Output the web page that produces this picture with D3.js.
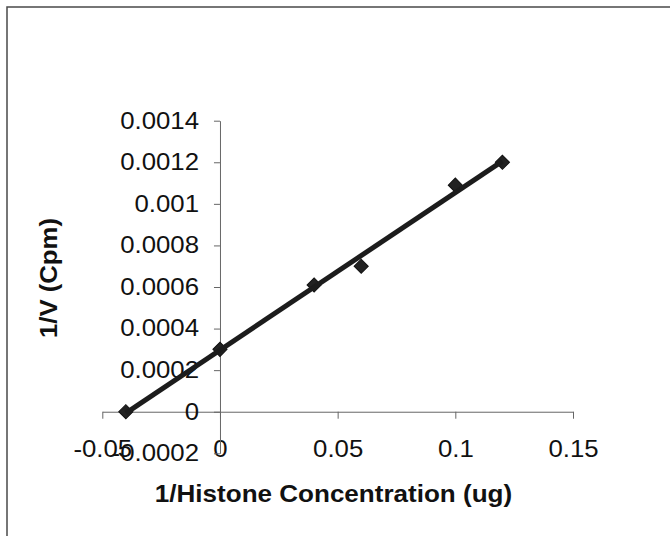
<!DOCTYPE html>
<html>
<head>
<meta charset="utf-8">
<script src="https://cdn.jsdelivr.net/npm/d3@7"></script>
<style>
  body { margin: 0; background: #fff; }
  svg { display: block; }
</style>
</head>
<body>
<svg id="chart"></svg>
<script>
// data
const histoneInv = [-0.04, 0, 0.04, 0.06, 0.1, 0.12];
const velocityInv = [0, 0.0003, 0.00061, 0.0007, 0.00109, 0.0012];

const xTicks = [-0.05, 0, 0.05, 0.1, 0.15];
const xTickLabels = ["-0.05", "0", "0.05", "0.1", "0.15"];
const yTicks = [-0.0002, 0, 0.0002, 0.0004, 0.0006, 0.0008, 0.001, 0.0012, 0.0014];
const yTickLabels = ["-0.0002", "0", "0.0002", "0.0004", "0.0006", "0.0008", "0.001", "0.0012", "0.0014"];

var width = 670;
var height = 536;

const svg = d3.select("#chart")
  .attr("width", width)
  .attr("height", height)
  .style("font-family", "'Liberation Sans', Arial, sans-serif");

// scanned page frame
svg.append("rect")
  .attr("x", 7).attr("y", 7)
  .attr("width", 700).attr("height", 600)
  .attr("fill", "none")
  .attr("stroke", "#4a4a4a")
  .attr("stroke-width", 1.5);

const x = d3.scaleLinear().domain([-0.05, 0.15]).range([102.3, 573]);
const y = d3.scaleLinear().domain([-0.0002, 0.0014]).range([453.3, 120.7]);

// stretch text a little along its baseline, the scan is wider than Arial
function widen(sel, k) {
  sel.each(function() {
    const w = this.getComputedTextLength();
    d3.select(this).attr("textLength", w * k).attr("lengthAdjust", "spacingAndGlyphs");
  });
}

// x axis sits on y = 0
const xAxis = svg.append("g")
  .attr("transform", `translate(0,${y(0)})`)
  .call(d3.axisBottom(x)
    .tickValues(xTicks)
    .tickFormat((d, i) => xTickLabels[i])
    .tickSize(7)
    .tickPadding(22)
    .tickSizeOuter(0));

// y axis sits on x = 0
const yAxis = svg.append("g")
  .attr("transform", `translate(${x(0)},0)`)
  .call(d3.axisLeft(y)
    .tickValues(yTicks)
    .tickFormat((d, i) => yTickLabels[i])
    .tickSize(6)
    .tickPadding(15)
    .tickSizeOuter(0));

[xAxis, yAxis].forEach(g => {
  g.select(".domain").attr("stroke", "#666").attr("stroke-width", 1);
  g.selectAll(".tick line").attr("stroke", "#666").attr("stroke-width", 1);
  g.selectAll(".tick text")
    .attr("fill", "#111")
    .style("font-size", "23px");
  widen(g.selectAll(".tick text"), 1.12);
});

// markers
const pts = histoneInv.map((v, i) => [v, velocityInv[i]]);

svg.append("g")
  .selectAll("path")
  .data(pts)
  .join("path")
  .attr("d", d3.symbol(d3.symbolSquare, 100))
  .attr("transform", d => `translate(${x(d[0])},${y(d[1])}) rotate(45)`)
  .attr("fill", "#222")
  .attr("stroke", "#111")
  .attr("stroke-width", 1);

// linear trendline through the points
const mx = d3.mean(histoneInv);
const my = d3.mean(velocityInv);
const slope = d3.sum(pts, d => (d[0] - mx) * (d[1] - my)) / d3.sum(pts, d => (d[0] - mx) ** 2);
const icpt = my - slope * mx;
const xr = d3.extent(histoneInv);

svg.append("path")
  .datum(xr.map(v => [v, icpt + slope * v]))
  .attr("d", d3.line().x(d => x(d[0])).y(d => y(d[1])))
  .attr("fill", "none")
  .attr("stroke", "#1c1c1c")
  .attr("stroke-width", 5)
  .attr("stroke-linecap", "butt");

// axis titles
const xTitle = svg.append("text")
  .attr("x", 333.5)
  .attr("y", 502)
  .attr("text-anchor", "middle")
  .style("font-size", "24px")
  .style("font-weight", "bold")
  .attr("fill", "#111")
  .text("1/Histone Concentration (ug)");
widen(xTitle, 1.085);

const yTitle = svg.append("text")
  .attr("transform", "translate(57,278) rotate(-90)")
  .attr("text-anchor", "middle")
  .style("font-size", "24px")
  .style("font-weight", "bold")
  .attr("fill", "#111")
  .text("1/V (Cpm)");
widen(yTitle, 1.07);
</script>
</body>
</html>
